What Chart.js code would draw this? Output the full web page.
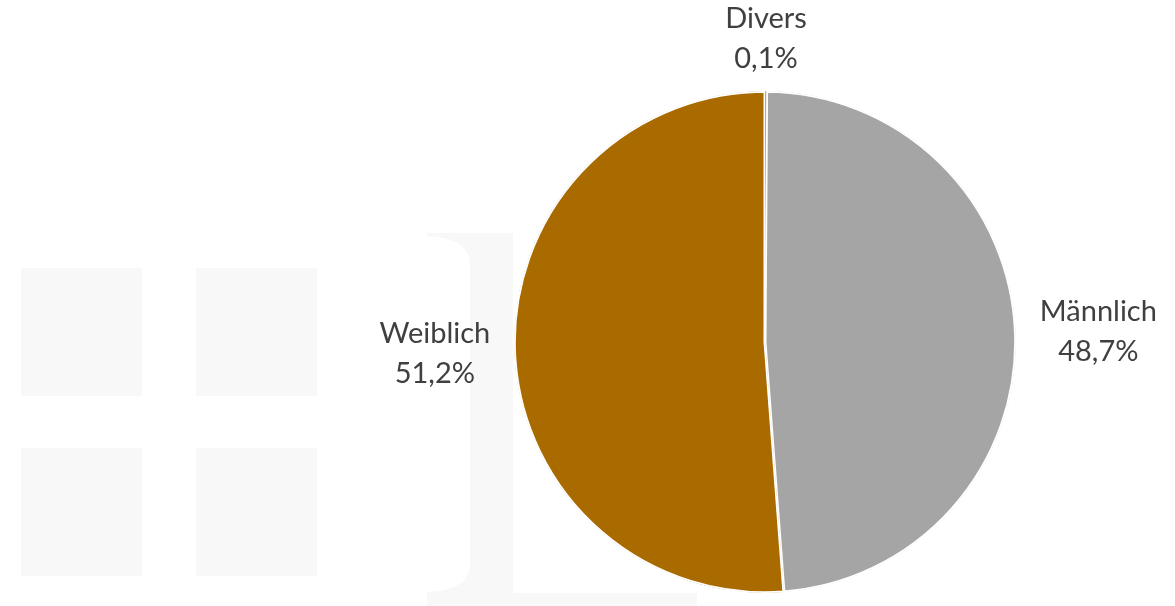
<!DOCTYPE html>
<html>
<head>
<meta charset="utf-8">
<script src="https://cdn.jsdelivr.net/npm/chart.js@4"></script>
<style>
  html, body { margin: 0; padding: 0; background: #fff; }
  #wrap { width: 1175px; height: 606px; position: relative; }
</style>
</head>
<body>
<div id="wrap"><canvas id="pieChart" width="1175" height="606"></canvas></div>
<script>
const categories = ['Divers', 'Männlich', 'Weiblich'];
const shares = [0.1, 48.7, 51.2];
const sliceColors = ['#B9761A', '#A5A5A5', '#A96A00'];

const labelFont = '29px Lato, "Open Sans", sans-serif';

// faint logo in the background
const watermark = {
  id: 'watermark',
  beforeDraw(chart) {
    const c = chart.ctx;
    c.save();
    c.fillStyle = '#f8f8f8';
    c.fillRect(21, 268, 121, 128);
    c.fillRect(196, 268, 121, 128);
    c.fillRect(21, 448, 121, 128);
    c.fillRect(196, 448, 121, 128);
    c.beginPath();
    c.moveTo(427, 233);
    c.lineTo(513, 233);
    c.lineTo(513, 593);
    c.lineTo(697, 593);
    c.lineTo(697, 606);
    c.lineTo(427, 606);
    c.lineTo(427, 592);
    c.quadraticCurveTo(470, 590, 470, 565);
    c.lineTo(470, 265);
    c.quadraticCurveTo(470, 238, 427, 236);
    c.closePath();
    c.fill();
    c.restore();
  }
};

// category + percent outside each slice
const outsideLabels = {
  id: 'outsideLabels',
  afterDatasetsDraw(chart) {
    const c = chart.ctx;
    const meta = chart.getDatasetMeta(0);
    c.save();
    c.font = labelFont;
    c.fillStyle = '#404040';
    c.textAlign = 'center';
    c.textBaseline = 'middle';
    const lineH = 40;
    meta.data.forEach((arc, i) => {
      const p = arc.getProps(['x', 'y', 'startAngle', 'endAngle', 'outerRadius'], true);
      const mid = (p.startAngle + p.endAngle) / 2;
      const lines = [categories[i], shares[i].toFixed(1).replace('.', ',') + '%'];
      const w = Math.max(...lines.map(t => c.measureText(t).width));
      const h = lineH * (lines.length - 1) + 16;
      const r = p.outerRadius + 24;
      const ax = p.x + Math.cos(mid) * r;
      const ay = p.y + Math.sin(mid) * r;
      const cx = ax + Math.cos(mid) * w / 2;
      const cy = ay + Math.sin(mid) * h / 2;
      lines.forEach((t, k) => {
        c.fillText(t, cx, cy + lineH * (k - (lines.length - 1) / 2));
      });
    });
    c.restore();
  }
};

new Chart(document.getElementById('pieChart'), {
  type: 'pie',
  data: {
    labels: categories,
    datasets: [{
      data: shares,
      backgroundColor: sliceColors,
      borderColor: '#ffffff',
      borderWidth: [0, 1.5, 1.5],
      borderAlign: 'inner',
      radius: 251
    }]
  },
  options: {
    responsive: false,
    animation: false,
    layout: { padding: { top: 91, bottom: 13, left: 514, right: 159 } },
    plugins: {
      legend: { display: false },
      tooltip: { enabled: false }
    }
  },
  plugins: [watermark, outsideLabels]
});
</script>
</body>
</html>
